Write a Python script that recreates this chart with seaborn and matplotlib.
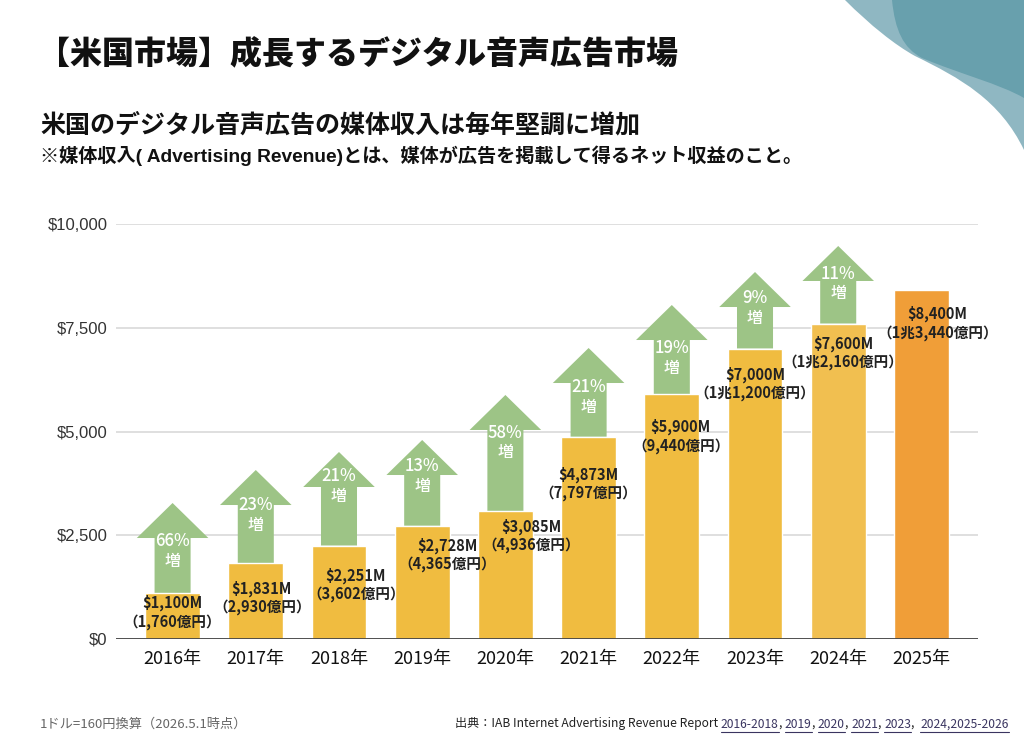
import matplotlib
matplotlib.use("Agg")
import matplotlib.pyplot as plt
import matplotlib.transforms as mtransforms
from matplotlib.path import Path
from matplotlib.patches import PathPatch
from matplotlib.lines import Line2D
import seaborn as sns
import pandas as pd

# ---------------- data ----------------
years = ["2016年", "2017年", "2018年", "2019年", "2020年",
         "2021年", "2022年", "2023年", "2024年", "2025年"]
revenue = [1100, 1831, 2251, 2728, 3085, 4873, 5900, 7000, 7600, 8400]   # $M
growth_pct = [66, 23, 21, 13, 58, 21, 19, 9, 11]                          # arrows 2016-2024
arrow_tip = [3277, 4072, 4506, 4795, 5880, 7012, 8048, 8843, 9470]        # $M
yen_rate = 160
y_ticks = [0, 2500, 5000, 7500, 10000]

# ---------------- styling / layout ----------------
bar_colors = ["#F0BC40"] * 8 + ["#F1BF50", "#F09E38"]
arrow_color = "#9DC486"
label_dx_px = [0, 6, 17, 25, 26, 0, 9, 0, 5, 16]
label_dy_px = [19, 35, 39, 29, 25, 47, 42, 35, 29, 33]
pct_dy_px = [38, 35, 24, 26, 38, 39, 43, 26, 28]

sns.set_theme(style="white")
plt.rcParams["font.family"] = ["Noto Sans CJK JP", "DejaVu Sans"]

W, H = 1024, 735
fig = plt.figure(figsize=(W / 100, H / 100), dpi=100)
fig.patch.set_facecolor("white")

# decoration top-right
deco = fig.add_axes([0, 0, 1, 1], zorder=0)
deco.set_xlim(0, W)
deco.set_ylim(H, 0)
deco.axis("off")
light = Path([(845, 0), (870, 25), (895, 45), (915, 56), (960, 78), (1000, 100), (1024, 150),
              (1024, 0), (845, 0)],
             [Path.MOVETO, Path.CURVE4, Path.CURVE4, Path.CURVE4, Path.CURVE4, Path.CURVE4,
              Path.CURVE4, Path.LINETO, Path.CLOSEPOLY])
dark = Path([(892, 0), (895, 30), (903, 48), (922, 58), (960, 74), (1000, 84), (1024, 98),
             (1024, 0), (892, 0)],
            [Path.MOVETO, Path.CURVE4, Path.CURVE4, Path.CURVE4, Path.CURVE4, Path.CURVE4,
             Path.CURVE4, Path.LINETO, Path.CLOSEPOLY])
deco.add_patch(PathPatch(light, facecolor="#8FB7C2", edgecolor="none"))
deco.add_patch(PathPatch(dark, facecolor="#68A0AD", edgecolor="none"))

# titles
fig.text(38 / W, 1 - 55 / H, "【米国市場】成長するデジタル音声広告市場", fontsize=23,
         fontweight="black", color="#111111", va="center", ha="left")
fig.text(40 / W, 1 - 125 / H, "米国のデジタル音声広告の媒体収入は毎年堅調に増加", fontsize=18,
         fontweight="bold", color="#111111", va="center", ha="left")
fig.text(40 / W, 1 - 156 / H,
         "※媒体収入( Advertising Revenue)とは、媒体が広告を掲載して得るネット収益のこと。",
         fontsize=13.8, fontweight="bold", color="#111111", va="center", ha="left",
         family=["Liberation Sans", "Noto Sans CJK JP"])

# main axes
ax = fig.add_axes([116 / W, 96 / H, 862 / W, 415 / H], zorder=1)
df = pd.DataFrame({"year": years, "revenue": revenue})
sns.barplot(data=df, x="year", y="revenue", hue="year", palette=bar_colors,
            width=0.66, legend=False, ax=ax, saturation=1, zorder=3)

ax.set_xlim(-0.68, len(years) - 1 + 0.68)
ax.set_ylim(0, 10000)
ax.set_yticks(y_ticks)
ax.set_yticklabels([f"${t:,}" for t in y_ticks], family=["Liberation Sans"], fontsize=12,
                   color="#333333")
ax.tick_params(axis="y", length=0, pad=6)
ax.tick_params(axis="x", length=0, pad=8, labelsize=13, labelcolor="#111111")
ax.set_xlabel("")
ax.set_ylabel("")
ax.grid(axis="y", color="#D9D9D9", linewidth=1.2, zorder=0)
ax.set_axisbelow(True)
for s in ax.spines.values():
    s.set_visible(False)
ax.axhline(0, color="#444444", linewidth=1.3, zorder=5)

# arrows
px_to_val = 10000 / 415
hw, hh, hl = 0.2165, 0.43, 35 * px_to_val
for i, (v, t) in enumerate(zip(revenue[:-1], arrow_tip)):
    c = i
    xs = [c - hw, c - hw, c - hh, c, c + hh, c + hw, c + hw]
    ys = [v, t - hl, t - hl, t, t - hl, t - hl, v]
    ax.fill(xs, ys, color=arrow_color, zorder=2, clip_on=False, linewidth=0)
    tr = mtransforms.offset_copy(ax.transData, fig=fig, x=0, y=-pct_dy_px[i], units="dots")
    ax.text(c, t, f"{growth_pct[i]}%", transform=tr, ha="center", va="center",
            color="white", fontsize=12, fontweight="medium", zorder=6)
    tr2 = mtransforms.offset_copy(ax.transData, fig=fig, x=0, y=-pct_dy_px[i] - 20, units="dots")
    ax.text(c, t, "増", transform=tr2, ha="center", va="center",
            color="white", fontsize=11.5, fontweight="medium", zorder=6)


def yen_str(v):
    oku = round(v * yen_rate / 100)
    if oku >= 10000:
        return f"{oku // 10000}兆{oku % 10000:,}億円"
    return f"{oku:,}億円"


for i, v in enumerate(revenue):
    tr = mtransforms.offset_copy(ax.transData, fig=fig, x=label_dx_px[i], y=-label_dy_px[i],
                                 units="dots")
    ax.text(i, v, f"${v:,}M\n（{yen_str(v)}）", transform=tr, ha="center", va="center",
            fontsize=10.5, fontweight="bold", color="#222222", linespacing=1.15, zorder=7)

# footnotes
fig.text(40 / W, 1 - 724 / H, "1ドル=160円換算（2026.5.1時点）", fontsize=9.5, color="#666666",
         va="center", ha="left")

pieces = [("出典：IAB Internet Advertising Revenue Report ", False), ("2016-2018", True),
          (", ", False), ("2019", True), (", ", False), ("2020", True), (", ", False),
          ("2021", True), (", ", False), ("2023", True), (",  ", False), ("2024,2025-2026", True)]
renderer = fig.canvas.get_renderer()
x = 455
ybase = 1 - 724 / H
for txt, link in pieces:
    t = fig.text(x / W, ybase, txt, fontsize=8.7, color="#3A3560" if link else "#222222",
                 va="center", ha="left")
    bb = t.get_window_extent(renderer)
    if link:
        fig.add_artist(Line2D([bb.x0 / W, bb.x1 / W], [(bb.y0 - 1) / H, (bb.y0 - 1) / H],
                              transform=fig.transFigure, color="#3A3560", linewidth=0.8))
    x = bb.x1

fig.savefig("out.png", dpi=100, facecolor="white")
